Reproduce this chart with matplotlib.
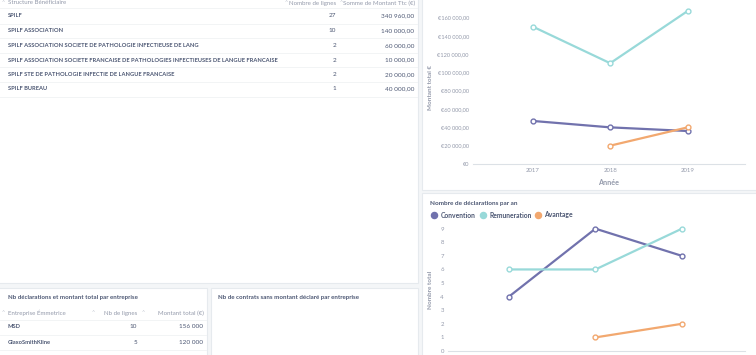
import matplotlib.pyplot as plt
import numpy as np
from matplotlib.patches import Rectangle

plt.rcParams['font.family'] = ['Lato', 'DejaVu Sans']

# data
structures = ["SPILF", "SPILF ASSOCIATION",
              "SPILF ASSOCIATION SOCIETE DE PATHOLOGIE INFECTIEUSE DE LANG",
              "SPILF ASSOCIATION SOCIETE FRANCAISE DE PATHOLOGIES INFECTIEUSES DE LANGUE FRANCAISE",
              "SPILF STE DE PATHOLOGIE INFECTIE DE LANGUE FRANCAISE",
              "SPILF BUREAU"]
nb_lignes = [27, 10, 2, 2, 2, 1]
montants_ttc = ["340 960,00", "140 000,00", "60 000,00", "10 000,00", "20 000,00", "40 000,00"]

entreprises = ["MSD", "GlaxoSmithKline"]
nb_entreprise = [10, 5]
montant_entreprise = ["156 000", "120 000"]

annees = ["2017", "2018", "2019"]
series = ["Convention", "Remuneration", "Avantage"]
montant_convention = [47000, 40000, 36000]
montant_remuneration = [150000, 110000, 167000]
montant_avantage = [np.nan, 20000, 40000]
nb_convention = [4, 9, 7]
nb_remuneration = [6, 6, 9]
nb_avantage = [np.nan, 1, 2]

colors = ["#7172AD", "#98D9D9", "#F2A86F"]
dark = "#4C5773"
gray = "#949AAB"

W, H = 756, 355
fig = plt.figure(figsize=(W / 100, H / 100), dpi=100)
fig.patch.set_facecolor("#F4F6F8")

bg = fig.add_axes([0, 0, 1, 1])
bg.set_xlim(0, W)
bg.set_ylim(H, 0)
bg.axis("off")


def card(x0, y0, x1, y1):
    bg.add_patch(Rectangle((x0, y0), x1 - x0, y1 - y0, facecolor="white",
                           edgecolor="#E6EAEE", lw=0.8))


def px_axes(x0, y0, x1, y1):
    return fig.add_axes([x0 / W, 1 - y1 / H, (x1 - x0) / W, (y1 - y0) / H])


def txt(x, y, s, ha="left", size=4.15, color=dark, weight="bold"):
    bg.text(x, y, s, ha=ha, va="center", fontsize=size, color=color, fontweight=weight)


card(-2, -2, 418, 283)
card(422, -2, 758, 190)
card(422, 193, 758, 358)
card(-2, 288, 207, 358)
card(211, 288, 418, 358)

# table 1
txt(2, 3, "^", size=4, color="#C4C9D2", weight="normal")
txt(8, 3, "Structure Bénéficiaire", size=4.4, color=gray, weight="normal")
txt(285, 3, "^", size=4, color="#C4C9D2", weight="normal")
txt(336, 3, "Nombre de lignes", ha="right", size=4.4, color=gray, weight="normal")
txt(340, 3, "^", size=4, color="#C4C9D2", weight="normal")
txt(415, 3, "Somme de Montant Ttc (€)", ha="right", size=4.4, color=gray, weight="normal")
rows_y = [15.5, 31, 45.5, 60, 74.5, 89]
for i, y in enumerate(rows_y):
    bg.plot([0, 417], [y - 7.3, y - 7.3], color="#F0F2F4", lw=0.6)
    txt(8, y, structures[i])
    txt(336, y, str(nb_lignes[i]), ha="right", size=4.6, weight="normal")
    txt(414, y, montants_ttc[i], ha="right", size=4.6, weight="normal")
bg.plot([0, 417], [96.5, 96.5], color="#F0F2F4", lw=0.6)

# table 2
txt(8, 297, "Nb déclarations et montant total par entreprise", size=4.45)
txt(2, 313, "^", size=4, color="#C4C9D2", weight="normal")
txt(8, 313, "Entreprise Émmetrice", size=4.4, color=gray, weight="normal")
txt(92, 313, "^", size=4, color="#C4C9D2", weight="normal")
txt(137, 313, "Nb de lignes", ha="right", size=4.4, color=gray, weight="normal")
txt(142, 313, "^", size=4, color="#C4C9D2", weight="normal")
txt(204, 313, "Montant total (€)", ha="right", size=4.4, color=gray, weight="normal")
for i, y in enumerate([327, 342]):
    bg.plot([0, 206], [y - 7.3, y - 7.3], color="#F0F2F4", lw=0.6)
    txt(8, y, entreprises[i])
    txt(137, y, str(nb_entreprise[i]), ha="right", size=4.6, weight="normal")
    txt(203, y, montant_entreprise[i], ha="right", size=4.6, weight="normal")
bg.plot([0, 206], [349.5, 349.5], color="#F0F2F4", lw=0.6)

txt(218, 297, "Nb de contrats sans montant déclaré par entreprise", size=4.45)


def legend(y):
    xs = [434, 482.5, 538]
    for c, x, name in zip(colors, xs, series):
        bg.plot(x, y, "o", color=c, ms=4.4)
        txt(x + 6.5, y, name, size=4.9)


legend(-5.5)
txt(430, 204, "Nombre de déclarations par an", size=4.6)
legend(215)


def style(ax, xlim, ylim):
    ax.set_facecolor("none")
    ax.set_xlim(*xlim)
    ax.set_ylim(*ylim)
    for s in ["top", "right", "left"]:
        ax.spines[s].set_visible(False)
    ax.spines["bottom"].set_color("#DCE1E6")
    ax.spines["bottom"].set_linewidth(0.8)
    ax.tick_params(axis="both", length=0, labelsize=4.3, labelcolor=gray, pad=3)
    ax.set_xticks(range(len(annees)))
    ax.set_xticklabels(annees)


# chart 1
ax1 = px_axes(473, 0, 745, 164)
style(ax1, (-0.77, 2.74), (0, 179000))
ax1.tick_params(axis="y", labelsize=4.1)
for c, vals in zip(colors, [montant_convention, montant_remuneration, montant_avantage]):
    ax1.plot(range(3), vals, color=c, lw=1.6, marker="o", ms=3.5,
             mfc="white", mec=c, mew=1.0)
yt = np.arange(0, 160001, 20000)
ax1.set_yticks(yt)
ax1.set_yticklabels(["€0" if v == 0 else "€" + f"{v:,}".replace(",", " ") + ",00" for v in yt])
ax1.set_xlabel("Année", fontsize=5.2, color=gray, fontweight="bold", labelpad=4)
bg.text(431, 87, "Montant total €", rotation=90, ha="center", va="center",
        fontsize=4.6, color=gray, fontweight="bold")

# chart 2
ax2 = px_axes(448, 224.6, 745, 351)
style(ax2, (-0.705, 2.73), (0, 9.3))
for c, vals in zip(colors, [nb_convention, nb_remuneration, nb_avantage]):
    ax2.plot(range(3), vals, color=c, lw=1.6, marker="o", ms=3.5,
             mfc="white", mec=c, mew=1.0, clip_on=False)
ax2.set_yticks(range(10))
bg.text(431, 290, "Nombre total", rotation=90, ha="center", va="center",
        fontsize=4.6, color=gray, fontweight="bold")

fig.savefig("out.png", dpi=100, facecolor=fig.get_facecolor())
